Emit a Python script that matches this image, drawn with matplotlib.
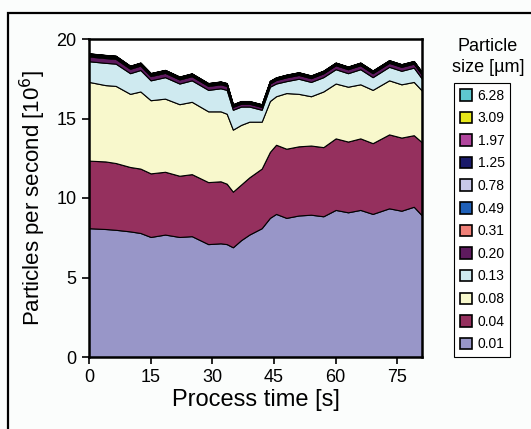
import matplotlib
matplotlib.use('Agg')
import matplotlib.pyplot as plt
from matplotlib.patches import Rectangle

plt.rcParams['font.family'] = ['Liberation Sans', 'DejaVu Sans']

# process time [s]
time = [0, 4, 6.5, 10, 12.5, 15, 18.5, 22, 25, 29, 32, 33.5, 35, 37, 39,
        42, 44, 45.5, 48, 51, 54, 57, 60, 63, 66, 69, 73, 76, 79, 81]

# particles per second [10^6] per size class (stacked layer thickness)
p001 = [8.1, 8.05, 8.0, 7.9, 7.8, 7.55, 7.7, 7.55, 7.6, 7.1, 7.15, 7.1, 6.9, 7.35, 7.7,
        8.1, 8.75, 9.0, 8.75, 8.9, 8.95, 8.85, 9.25, 9.1, 9.25, 9.0, 9.35, 9.2, 9.45, 8.9]
p004 = [4.25, 4.25, 4.2, 4.05, 4.05, 4.0, 3.95, 3.85, 3.9, 3.9, 3.9, 3.8, 3.5, 3.5, 3.6,
        3.75, 4.15, 4.35, 4.35, 4.35, 4.35, 4.35, 4.5, 4.45, 4.5, 4.45, 4.65, 4.6, 4.5, 4.6]
p008 = [4.95, 4.8, 4.85, 4.6, 4.85, 4.6, 4.6, 4.5, 4.55, 4.45, 4.4, 4.4, 3.9, 3.75, 3.5,
        2.95, 3.2, 3.05, 3.5, 3.3, 3.1, 3.5, 3.45, 3.45, 3.4, 3.35, 3.4, 3.35, 3.35, 3.25]
p013 = [1.3, 1.4, 1.4, 1.3, 1.35, 1.25, 1.35, 1.3, 1.35, 1.35, 1.45, 1.5, 1.25, 1.15, 0.95,
        0.75, 0.9, 0.8, 0.75, 0.95, 0.9, 0.9, 0.9, 0.85, 0.95, 0.8, 0.85, 0.85, 0.9, 0.75]
p020 = [0.3, 0.3, 0.3, 0.28, 0.28, 0.27, 0.27, 0.26, 0.26, 0.25, 0.25, 0.25, 0.18, 0.18, 0.18,
        0.18, 0.2, 0.22, 0.24, 0.24, 0.24, 0.24, 0.25, 0.25, 0.25, 0.25, 0.25, 0.25, 0.25, 0.25]
p031 = [0.07, 0.07, 0.07, 0.06, 0.06, 0.06, 0.06, 0.05, 0.05, 0.05, 0.05, 0.05, 0.04, 0.04, 0.04,
        0.04, 0.04, 0.04, 0.04, 0.04, 0.04, 0.04, 0.04, 0.04, 0.04, 0.04, 0.04, 0.04, 0.04, 0.04]
p049 = [0.03] * 30
p078 = [0.03] * 30
p125 = [0.03] * 30
p197 = [0.02] * 30
p309 = [0.01] * 30
p628 = [0.01] * 30

sizes = ['0.01', '0.04', '0.08', '0.13', '0.20', '0.31',
         '0.49', '0.78', '1.25', '1.97', '3.09', '6.28']
layers = [p001, p004, p008, p013, p020, p031, p049, p078, p125, p197, p309, p628]
colors = ['#9896c8', '#95305e', '#f8f8cc', '#cfeaf0', '#5e1a5e', '#f08078',
          '#1f60b8', '#c8c8e8', '#1a1a6a', '#b0449c', '#e8e81a', '#5ec8d0']

fig = plt.figure(figsize=(5.31, 4.29), dpi=100)
fig.patch.set_facecolor('#fbfdfc')
ax = fig.add_axes([89/531, 1 - 357/429, (422 - 89)/531, (357 - 39)/429])

polys = ax.stackplot(time, *layers, colors=colors, labels=sizes,
                     edgecolor='black', linewidth=0.8)

ax.set_xlim(0, 81)
ax.set_ylim(0, 20)
ax.set_xticks([0, 15, 30, 45, 60, 75])
ax.set_yticks([0, 5, 10, 15, 20])
ax.tick_params(direction='out', length=5, width=1.2, labelsize=13, colors='black', pad=4)
for s in ax.spines.values():
    s.set_linewidth(1.8)

ax.set_xlabel('Process time [s]', fontsize=17, labelpad=2)
ax.set_ylabel('Particles per second [10$^6$]', fontsize=16, labelpad=6)

# outer frame of the figure
fig.add_artist(Rectangle((8/531, -0.2), 1.2, 1.2 - 13/429 + 0.0, transform=fig.transFigure,
                         fill=False, edgecolor='black', linewidth=1.6))

handles, labels = ax.get_legend_handles_labels()
leg = ax.legend(handles[::-1], labels[::-1], loc='upper left',
                bbox_to_anchor=(454/531, 1 - 83/429), bbox_transform=fig.transFigure,
                borderaxespad=0, fontsize=10, handlelength=0.9, handleheight=0.9,
                handletextpad=0.4, labelspacing=0.62, borderpad=0.4,
                fancybox=False, framealpha=1, edgecolor='black')
leg.get_frame().set_linewidth(0.8)
for h in leg.legend_handles:
    h.set_edgecolor('black')
    h.set_linewidth(1.2)

fig.text(488/531, 1 - 57/429, 'Particle\nsize [\u00b5m]', ha='center', va='center',
         fontsize=13, linespacing=1.25)

fig.savefig('out.png', dpi=100, facecolor=fig.get_facecolor())
